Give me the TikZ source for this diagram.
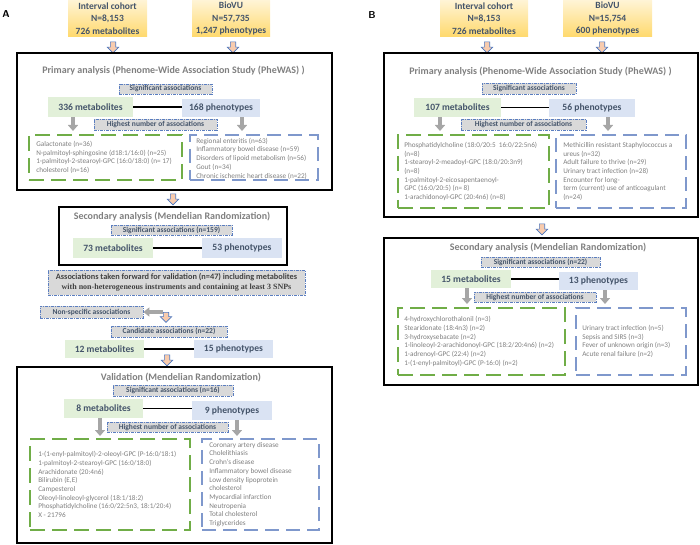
\documentclass[tikz,border=0pt]{standalone}
\usepackage{fontspec}
\setmainfont{Carlito}
\newfontfamily\serifbold{Liberation Serif}
\usepackage{tikz}
\usetikzlibrary{positioning}
\usetikzlibrary{shapes.arrows, arrows.meta}
\usetikzlibrary{calc}

\definecolor{slate}{HTML}{44546A}
\definecolor{yelltop}{HTML}{FFF4D6}
\definecolor{yellbot}{HTML}{FFD96C}
\definecolor{metfill}{HTML}{E2F0D9}
\definecolor{phefill}{HTML}{DAE3F3}
\definecolor{taggray}{HTML}{D9D9D9}
\definecolor{tagblue}{HTML}{5B7EC0}
\definecolor{greendash}{HTML}{70AD47}
\definecolor{bluedash}{HTML}{7F98CC}
\definecolor{itemgray}{HTML}{7F7F7F}
\definecolor{titlegray}{HTML}{7F7F7F}
\definecolor{peachfill}{HTML}{F8CBAD}
\definecolor{peachline}{HTML}{4A76C0}
\definecolor{arrowgray}{HTML}{A6A6A6}

\tikzstyle{bigbox} = [draw=black, line width=2pt, rectangle]
\tikzstyle{cohort} = [top color=yelltop, bottom color=yellbot, align=center, text=slate, minimum height=37pt, font=\fontsize{9.5}{12.5}\selectfont\bfseries]
\tikzstyle{metbox} = [fill=metfill, text=slate, minimum height=20pt, font=\fontsize{9.6}{11}\selectfont\bfseries]
\tikzstyle{phebox} = [fill=phefill, text=slate, minimum height=20pt, font=\fontsize{9.6}{11}\selectfont\bfseries]
\tikzstyle{tag} = [fill=taggray, draw=tagblue, line width=0.8pt, dash pattern=on 3pt off 1pt on 1pt off 1pt, text=slate, minimum height=10pt, font=\fontsize{7.5}{8}\selectfont\bfseries]
\tikzstyle{greenlist} = [draw=greendash, line width=1.8pt, dash pattern=on 15pt off 7pt]
\tikzstyle{bluelist} = [draw=bluedash, line width=1.8pt, dash pattern=on 14pt off 7pt]
\tikzstyle{items} = [anchor=west, align=left, text=itemgray, font=\fontsize{7.2}{8.7}\selectfont]
\tikzstyle{heading} = [text=titlegray, font=\fontsize{10}{11}\selectfont\bfseries]
\tikzstyle{panel} = [font=\sffamily\bfseries\fontsize{10}{11}\selectfont]
\tikzstyle{peach} = [single arrow, shape border rotate=270, fill=peachfill, draw=peachline, line width=0.6pt, minimum height=11pt, inner sep=2.4pt, single arrow head extend=3pt]
\tikzstyle{grayarrow} = [draw=arrowgray, line width=4pt, -{Triangle[width=10pt,length=6pt]}]
\tikzstyle{link} = [draw=black, line width=1.5pt]

\begin{document}
\begin{tikzpicture}[x=1pt, y=-1pt, every node/.style={inner sep=0pt}]
  \useasboundingbox (0,0) rectangle (700,545);

  % ---------- A ----------
  \node[panel] (LabA) at (6,14) {A};
  \node[cohort, minimum width=79pt] (CohA) at (107.5,18.5) {Interval cohort\\N=8,153\\726 metabolites};
  \node[cohort, minimum width=78pt] (BioA) at (231,18.5) {BioVU\\N=57,735\\1,247 phenotypes};
  \node[peach] (PkA1) at (113,46) {};
  \node[peach] (PkA2) at (233,46) {};

  % Primary analysis
  \node[bigbox, minimum width=315pt, minimum height=137pt] (PrimA) at (174.5,121.5) {};
  \node[heading] (PrimTitA) at (173.5,70.5) {Primary analysis (Phenome-Wide Association Study (PheWAS) )};
  \node[tag, minimum width=93pt] (SigA) at (165.5,89) {Significant associations};
  \node[metbox, minimum width=85pt] (MetA) at (90.5,107) {336 metabolites};
  \node[phebox, minimum width=78pt, minimum height=18pt] (PheA) at (221,108) {168 phenotypes};
  \draw[link] (MetA.east) -- (MetA.east -| PheA.west);
  \coordinate (gA1) at (73,131);
  \coordinate (gA2) at (242,131);
  \draw[grayarrow] (MetA.south -| gA1) -- (gA1);
  \draw[grayarrow] (PheA.south -| gA2) -- (gA2);
  \node[tag, minimum width=123pt, minimum height=11pt] (HighA) at (155.5,124.5) {Highest number of associations};
  \node[greenlist, minimum width=153pt, minimum height=45pt] (LMetA) at (105.5,157.5) {};
  \node[bluelist, minimum width=128pt, minimum height=45pt] (LPheA) at (254,157.5) {};
  \node[items] (ItMetA) at ([xshift=8]LMetA.west) {Galactonate (n=36)\\N-palmitoyl-sphingosine (d18:1/16:0) (n=25)\\1-palmitoyl-2-stearoyl-GPC (16:0/18:0) (n= 17)\\cholesterol (n=16)};
  \node[items] (ItPheA) at ([xshift=7,yshift=-1]LPheA.west) {Regional enteritis (n=63)\\Inflammatory bowel disease (n=59)\\Disorders of lipoid metabolism (n=56)\\Gout (n=34)\\Chronic ischemic heart disease (n=22)};
  \node[peach] (PkA3) at (173,198) {};

  % Secondary analysis
  \node[bigbox, minimum width=228pt, minimum height=58pt] (SecA) at (173,236) {};
  \node[heading] (SecTitA) at (172,217) {Secondary analysis (Mendelian Randomization)};
  \node[tag, minimum width=121pt] (SigA2) at (171.5,230) {Significant associations (n=159)};
  \node[metbox, minimum width=80pt] (MetA2) at (113,248) {73 metabolites};
  \node[phebox, minimum width=80pt] (PheA2) at (242,248) {53 phenotypes};
  \draw[link] (MetA2) -- (PheA2);

  \node[tag, minimum width=257pt, minimum height=25pt, align=center, text=black!75, font=\fontsize{8.3}{10}\selectfont\bfseries] (FwdA) at (176.5,282.5) {Associations taken forward for validation (n=47) including metabolites\\{\serifbold\fontsize{8}{10}\selectfont with non-heterogeneous instruments and containing at least 3 SNPs}};
  \node[tag, minimum width=103pt, minimum height=12pt] (NonA) at (91.5,312) {Non-specific associations};
  \node[peach, minimum height=10pt] (PkA4) at (166,316) {};
  \draw[grayarrow, line width=3.5pt, -{Triangle[width=9pt,length=6pt]}] (PkA4.center |- NonA.east) ++(-3,0) -- (NonA.east);
  \node[tag, minimum width=116pt, minimum height=11pt] (CandA) at (169,331.5) {Candidate associations (n=22)};
  \node[metbox, minimum width=79pt, minimum height=18pt] (MetA3) at (104.5,349) {12 metabolites};
  \node[phebox, minimum width=79pt, minimum height=18pt] (PheA3) at (233.5,349) {15 phenotypes};
  \draw[link] (MetA3) -- (PheA3);
  \node[peach] (PkA5) at (167,359) {};

  % Validation
  \node[bigbox, minimum width=315pt, minimum height=176pt] (ValA) at (174.5,455) {};
  \node[heading] (ValTitA) at (181,378) {Validation (Mendelian Randomization)};
  \node[tag, minimum width=120pt, minimum height=11pt] (SigA3) at (173,390.5) {Significant associations (n=16)};
  \node[metbox, minimum width=79pt, minimum height=19pt] (MetA4) at (103.5,408.5) {8 metabolites};
  \node[phebox, minimum width=80pt, minimum height=19pt] (PheA4) at (232,410.5) {9 phenotypes};
  \draw[link] (MetA4.east) -- (MetA4.east -| PheA4.west);
  \coordinate (gA3) at (100,436);
  \coordinate (gA4) at (237,436);
  \draw[grayarrow] (MetA4.south -| gA3) -- (gA3);
  \draw[grayarrow] (PheA4.south -| gA4) -- (gA4);
  \node[tag, minimum width=121pt] (HighA4) at (167.5,427) {Highest number of associations};
  \node[greenlist, minimum width=160pt, minimum height=91pt] (LMetA4) at (110,484.5) {};
  \node[bluelist, minimum width=117pt, minimum height=91pt] (LPheA4) at (260.5,484.5) {};
  \node[items] (ItMetA4) at ([xshift=9]LMetA4.west) {1-(1-enyl-palmitoyl)-2-oleoyl-GPC (P-16:0/18:1)\\1-palmitoyl-2-stearoyl-GPC (16:0/18:0)\\Arachidonate (20:4n6)\\Bilirubin (E,E)\\Campesterol\\Oleoyl-linoleoyl-glycerol (18:1/18:2)\\Phosphatidylcholine (16:0/22:5n3, 18:1/20:4)\\X - 21796};
  \node[items] (ItPheA4) at ([xshift=8]LPheA4.west) {Coronary artery disease\\Cholelithiasis\\Crohn's disease\\Inflammatory bowel disease\\Low density lipoprotein\\cholesterol\\Myocardial infarction\\Neutropenia\\Total cholesterol\\Triglycerides};

  % ---------- B ----------
  \node[panel] (LabB) at (372,15) {B};
  \node[cohort, minimum width=88pt] (CohB) at (484,18.5) {Interval cohort\\N=8,153\\726 metabolites};
  \node[cohort, minimum width=89pt] (BioB) at (607.5,18.5) {BioVU\\N=15,754\\600 phenotypes};
  \node[peach] (PkB1) at (487,46) {};
  \node[peach] (PkB2) at (602,46) {};

  % Primary analysis
  \node[bigbox, minimum width=314pt, minimum height=164pt] (PrimB) at (541,135) {};
  \node[heading] (PrimTitB) at (540.5,72) {Primary analysis (Phenome-Wide Association Study (PheWAS) )};
  \node[tag, minimum width=94pt, minimum height=11pt] (SigB) at (529,88.5) {Significant associations};
  \node[metbox, minimum width=87pt, minimum height=19pt] (MetB) at (457.5,107.5) {107 metabolites};
  \node[phebox, minimum width=86pt, minimum height=18pt] (PheB) at (592,108) {56 phenotypes};
  \draw[link] (MetB.east) -- (MetB.east -| PheB.west);
  \coordinate (gB1) at (440,131);
  \coordinate (gB2) at (608,131);
  \draw[grayarrow] (MetB.south -| gB1) -- (gB1);
  \draw[grayarrow] (PheB.south -| gB2) -- (gB2);
  \node[tag, minimum width=125pt, minimum height=11pt] (HighB) at (523.5,124.5) {Highest number of associations};
  \node[greenlist, minimum width=151pt, minimum height=73pt] (LMetB) at (473.5,171.5) {};
  \node[bluelist, minimum width=130pt, minimum height=73pt] (LPheB) at (621,171.5) {};
  \node[items] (ItMetB) at ([xshift=7]LMetB.west) {Phosphatidylcholine (18:0/20:5\ \ 16:0/22:5n6)\\(n=8)\\1-stearoyl-2-meadoyl-GPC (18:0/20:3n9)\\(n=8)\\1-palmitoyl-2-eicosapentaenoyl-\\GPC (16:0/20:5) (n= 8)\\1-arachidonoyl-GPC (20:4n6) (n=8)};
  \node[items] (ItPheB) at ([xshift=8]LPheB.west) {Methicillin resistant Staphylococcus a\\ureus (n=32)\\Adult failure to thrive (n=29)\\Urinary tract infection (n=28)\\Encounter for long-\\term (current) use of anticoagulant\\(n=24)};
  \node[peach] (PkB3) at (542,228) {};

  % Secondary analysis
  \node[bigbox, minimum width=314pt, minimum height=147pt] (SecB) at (541,311.5) {};
  \node[heading] (SecTitB) at (548,248) {Secondary analysis (Mendelian Randomization)};
  \node[tag, minimum width=119pt] (SigB2) at (540.5,262) {Significant associations (n=22)};
  \node[metbox, minimum width=80pt, minimum height=18pt] (MetB2) at (471,279) {15 metabolites};
  \node[phebox, minimum width=79pt, minimum height=18pt] (PheB2) at (598.5,281) {13 phenotypes};
  \draw[link] (MetB2.east) -- (MetB2.east -| PheB2.west);
  \coordinate (gB3) at (467,304);
  \coordinate (gB4) at (605,304);
  \draw[grayarrow] (MetB2.south -| gB3) -- (gB3);
  \draw[grayarrow] (PheB2.south -| gB4) -- (gB4);
  \node[tag, minimum width=122pt] (HighB2) at (535,297) {Highest number of associations};
  \node[greenlist, minimum width=167pt, minimum height=67pt] (LMetB2) at (481.5,341.5) {};
  \node[bluelist, minimum width=110pt, minimum height=67pt] (LPheB2) at (631,341.5) {};
  \node[items] (ItMetB2) at ([xshift=7]LMetB2.west) {4-hydroxychlorothalonil (n=3)\\Stearidonate (18:4n3) (n=2)\\3-hydroxysebacate (n=2)\\1-linoleoyl-2-arachidonoyl-GPC (18:2/20:4n6) (n=2)\\1-adrenoyl-GPC (22:4) (n=2)\\1-(1-enyl-palmitoyl)-GPC (P-16:0) (n=2)};
  \node[items] (ItPheB2) at ([xshift=7]LPheB2.west) {Urinary tract infection (n=5)\\Sepsis and SIRS (n=3)\\Fever of unknown origin (n=3)\\Acute renal failure (n=2)};
\end{tikzpicture}
\end{document}
